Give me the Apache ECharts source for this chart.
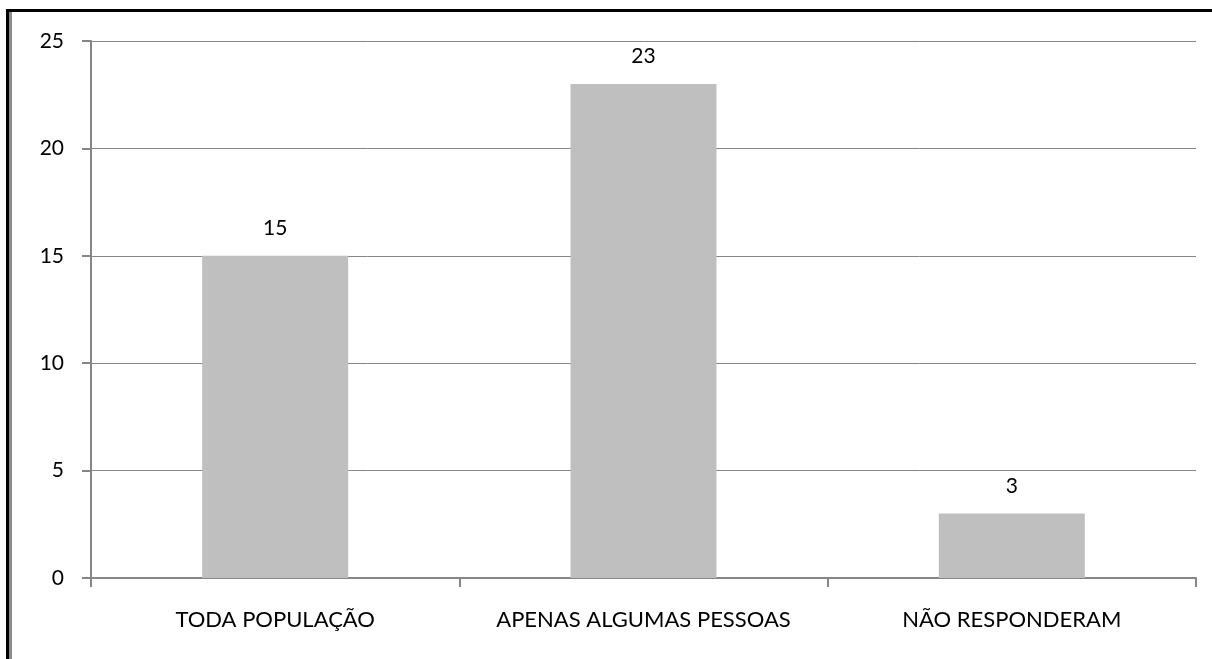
<!DOCTYPE html>
<html><head><meta charset="utf-8">
<script src="https://cdn.jsdelivr.net/npm/echarts@6/dist/echarts.min.js"></script>
<style>html,body{margin:0;padding:0;background:#fff}#c{width:1212px;height:659px}</style>
</head><body><div id="c"></div>
<script>
const categories = ['TODA POPULAÇÃO', 'APENAS ALGUMAS PESSOAS', 'NÃO RESPONDERAM'];
const values = [15, 23, 3];
const yTicks = { min: 0, max: 25, interval: 5 };

const FONT = 'Lato, "Open Sans", sans-serif';
const chart = echarts.init(document.getElementById('c'), null, { renderer: 'canvas' });
chart.setOption({
  animation: false,
  backgroundColor: '#fff',
  grid: { left: 91, right: 16, top: 41, bottom: 81, containLabel: false },
  xAxis: {
    type: 'category', data: categories,
    axisLine: { lineStyle: { color: '#868686', width: 2 } },
    axisTick: { show: true, interval: 0, length: 9, lineStyle: { color: '#868686', width: 2 }, alignWithLabel: false },
    axisLabel: { interval: 0, hideOverlap: false, color: '#000', fontFamily: FONT, fontSize: 22, margin: 31 },
    splitLine: { show: false }
  },
  yAxis: {
    type: 'value', min: yTicks.min, max: yTicks.max, interval: yTicks.interval,
    axisLine: { show: true, lineStyle: { color: '#868686', width: 2 } },
    axisTick: { show: true, length: 9, lineStyle: { color: '#868686', width: 2 } },
    axisLabel: { color: '#000', fontFamily: FONT, fontSize: 21, margin: 27 },
    splitLine: { show: true, lineStyle: { color: '#868686', width: 1 } }
  },
  series: [{
    type: 'bar', data: values, barWidth: 146,
    itemStyle: { color: '#bfbfbf' },
    label: { show: true, position: 'top', distance: 17, color: '#000', fontFamily: FONT, fontSize: 21 }
  }],
  graphic: [
    { type: 'rect', shape: { x: 6, y: 9, width: 1206, height: 3 }, style: { fill: '#000' }, silent: true },
    { type: 'rect', shape: { x: 6, y: 9, width: 3, height: 650 }, style: { fill: '#000' }, silent: true },
    { type: 'rect', shape: { x: 9, y: 12, width: 3, height: 647 }, style: { fill: '#8c8c8c' }, silent: true }
  ]
});
</script></body></html>
